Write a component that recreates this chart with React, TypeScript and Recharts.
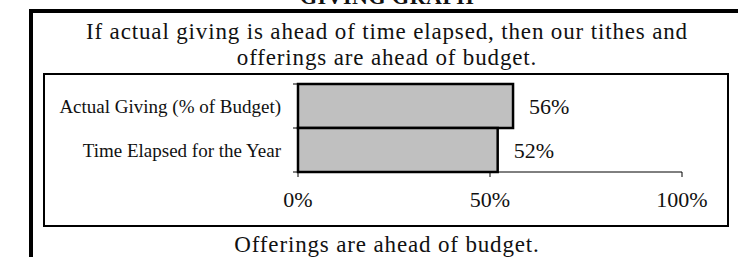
import React from "react";
import { BarChart, Bar, XAxis, YAxis, LabelList } from "recharts";

const categories = ["Actual Giving (% of Budget)", "Time Elapsed for the Year"];
const shares = [0.56, 0.52];
const xTicks = [0, 0.5, 1];

const data = categories.map((name, i) => ({ name, value: shares[i] }));

const FONT = '"Liberation Serif", "Times New Roman", serif';
const pct = (v: number) => `${Math.round(v * 100)}%`;

// category labels, with Excel-style tick marks on the band edges
function CategoryTick(props: any) {
  const { x, y, payload, index } = props;
  const axisX = x + 17;
  const half = 22;
  return (
    <g>
      <text x={x} y={y} dy="0.35em" textAnchor="end" fontSize={19} fontFamily={FONT} fill="#111">
        {payload.value}
      </text>
      <line x1={axisX - 5} x2={axisX} y1={y - half} y2={y - half} stroke="#000" />
      {index === categories.length - 1 && (
        <line x1={axisX - 5} x2={axisX} y1={y + half} y2={y + half} stroke="#000" />
      )}
    </g>
  );
}

const line: React.CSSProperties = {
  position: "absolute", left: 0, width: 774, textAlign: "center",
  fontSize: 23, lineHeight: "23px", letterSpacing: 0.85, whiteSpace: "nowrap",
};

export default function App() {
  return (
    <div
      style={{
        position: "fixed", left: 0, top: 0, width: 738, height: 257,
        overflow: "hidden", background: "#fff", fontFamily: FONT, color: "#111",
      }}
    >
      {/* heading, mostly cut off by the page edge */}
      <div style={{ position: "absolute", left: 0, width: 774, top: -16, textAlign: "center", fontWeight: "bold", fontSize: 22, letterSpacing: 0.5 }}>
        GIVING GRAPH
      </div>

      {/* outer frame */}
      <div style={{ position: "absolute", left: 29, top: 9, width: 800, height: 300, borderTop: "4px solid #000", borderLeft: "4px solid #000" }} />

      <div style={{ ...line, top: 20 }}>
        If actual giving is ahead of time elapsed, then our tithes and
      </div>
      <div style={{ ...line, top: 46 }}>
        offerings are ahead of budget.
      </div>

      {/* chart box */}
      <div style={{ position: "absolute", left: 43, top: 73, width: 686, height: 154, border: "2px solid #000", boxSizing: "border-box" }} />

      <div style={{ position: "absolute", left: 45, top: 75 }}>
        <BarChart
          width={682}
          height={150}
          data={data}
          layout="vertical"
          barCategoryGap={0}
          margin={{ top: 9, right: 45, left: 0, bottom: 0 }}
        >
          <XAxis
            type="number"
            domain={[0, 1]}
            ticks={xTicks}
            tickFormatter={pct}
            height={53}
            tickSize={5}
            tickMargin={14}
            axisLine={{ stroke: "#000" }}
            tickLine={{ stroke: "#000" }}
            tick={{ fontSize: 22, fontFamily: FONT, fill: "#111" }}
          />
          <YAxis
            type="category"
            dataKey="name"
            width={253}
            tickSize={0}
            tickMargin={17}
            axisLine={{ stroke: "#000" }}
            tickLine={false}
            tick={<CategoryTick />}
          />
          <Bar dataKey="value" fill="#c0c0c0" stroke="#000" strokeWidth={2.5} isAnimationActive={false}>
            <LabelList
              dataKey="value"
              position="right"
              offset={16}
              formatter={(v: any) => pct(Number(v))}
              style={{ fontSize: 22, fontFamily: FONT, fill: "#111" }}
            />
          </Bar>
        </BarChart>
      </div>

      <div style={{ ...line, top: 233 }}>
        Offerings are ahead of budget.
      </div>
    </div>
  );
}
